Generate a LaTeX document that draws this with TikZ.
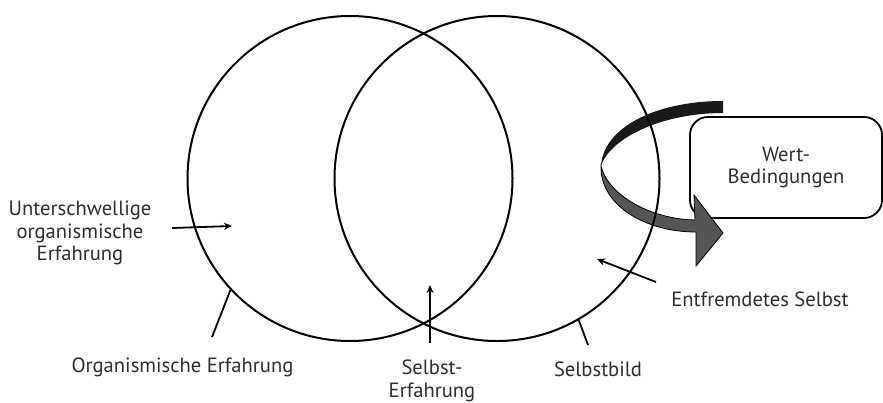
\documentclass[tikz,border=0pt]{standalone}
\usepackage{fontspec}
\setmainfont{PT Sans}
\usetikzlibrary{arrows.meta}
\definecolor{inkgray}{HTML}{2E2E2E}
\definecolor{bandgray}{HTML}{555555}
\tikzset{
  ring/.style={draw, circle, inner sep=0pt, minimum size=325pt, line width=2pt},
  lbl/.style={inner sep=0pt, align=center, text=inkgray, font=\fontsize{20.6}{22.5}\selectfont},
  pointer/.style={line width=1.8pt, -{Stealth[length=8pt, width=7pt]}},
  tick/.style={line width=1.8pt},
}

\begin{document}
\begin{tikzpicture}[x=1pt, y=-1pt]
  \useasboundingbox (0,0) rectangle (883,402);
  % box on the right
  \node[lbl, draw=black, line width=1.8pt, rounded corners=18pt, minimum width=192pt, minimum height=101pt] (wert) at (786,167.5) {Wert-\\Bedingungen};

  % curved arrow round the box
  \fill[black!90] (723,101) .. controls (655,101) and (603,128) .. (601,166)
    .. controls (610,138) and (662,113) .. (723,113) -- cycle;
  \filldraw[fill=bandgray, draw=black, line width=0.8pt] (601,166) .. controls (608,195) and (650,219) .. (695,220)
    -- (694,195) -- (723,233) -- (696,266) -- (696,232)
    .. controls (645,232) and (600,205) .. (601,166) -- cycle;

  % the two circles
  \node[ring] (orgcirc) at (350,178.5) {};
  \node[ring] (selfcirc) at (497,178.5) {};

  % labels
  \node[lbl] (unter) at (80,233) {Unterschwellige\\organismische\\Erfahrung};
  \coordinate (unterA) at (172,228);
  \coordinate (unterB) at (232,226);
  \draw[pointer] (unterA) -- (unterB);

  \node[lbl, anchor=base] (orgtxt) at (182.5,372) {Organismische Erfahrung};
  \coordinate (orgend) at (212,337);
  \draw[tick] (orgcirc.223) -- (orgend);

  \node[lbl] (selbsttxt) at (432,381) {Selbst-\\Erfahrung};
  \coordinate (selbstA) at (430,343);
  \coordinate (selbstB) at (430,285);
  \draw[pointer] (selbstA) -- (selbstB);

  \node[lbl, anchor=base] (bildtxt) at (598,376) {Selbstbild};
  \coordinate (bildend) at (588,345);
  \draw[tick] (selfcirc.-60) -- (bildend);

  \node[lbl, anchor=base] (fremdtxt) at (760,306) {Entfremdetes Selbst};
  \coordinate (fremdA) at (656,282);
  \coordinate (fremdB) at (597,259);
  \draw[pointer] (fremdA) -- (fremdB);
\end{tikzpicture}
\end{document}
